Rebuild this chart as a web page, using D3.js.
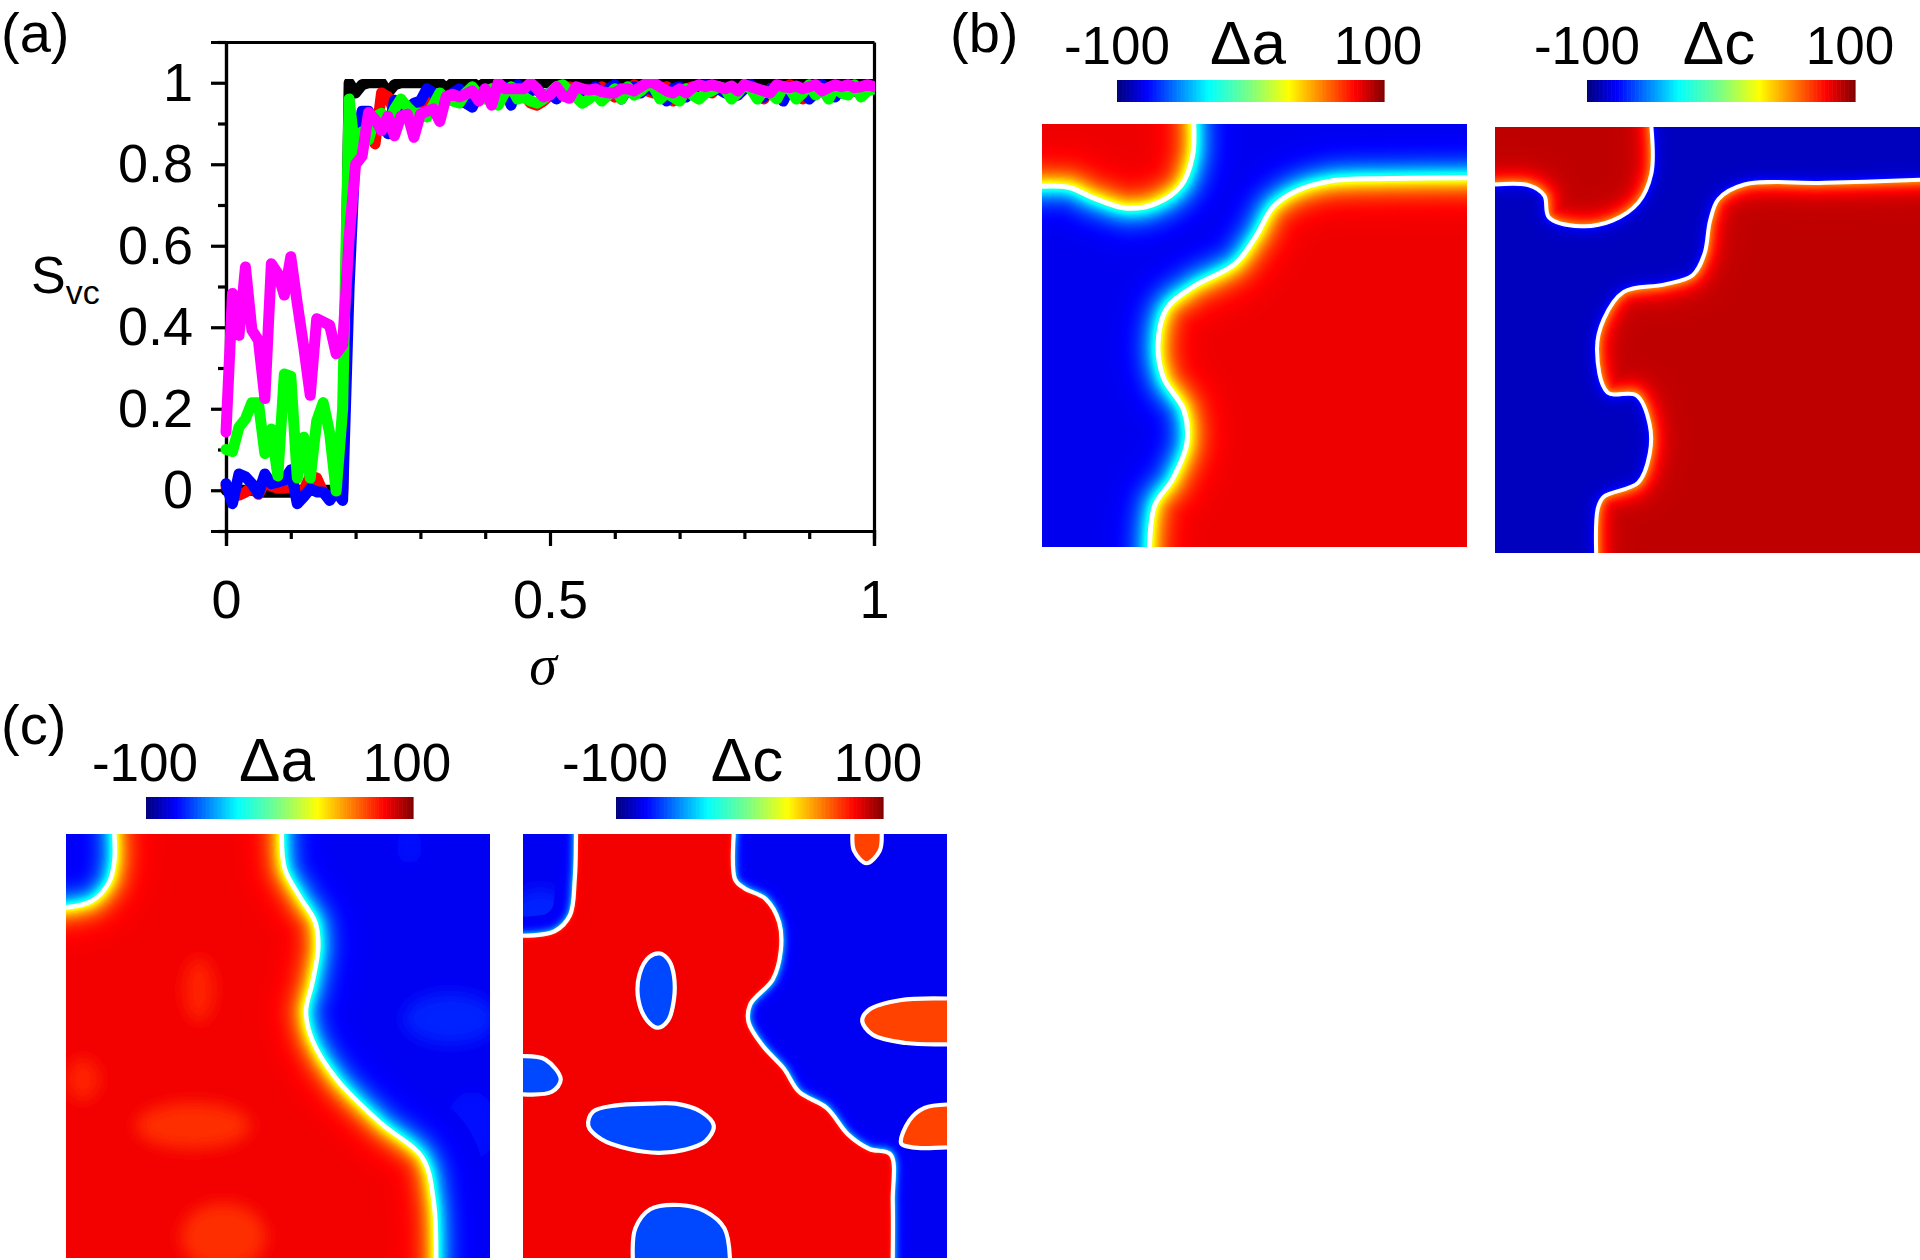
<!DOCTYPE html>
<html><head><meta charset="utf-8">
<script src="https://cdnjs.cloudflare.com/ajax/libs/d3/7.8.5/d3.min.js"></script>
<style>html,body{margin:0;padding:0;background:#fff}svg{display:block}text{font-family:"Liberation Sans",Arial,sans-serif;fill:#000}</style>
</head><body><div id="c"></div>
<script>
// ---- panel (a) data: order parameter vs sigma, sampled every 0.01
const sigma = d3.range(101).map(i => i / 100);
const seriesBlack = [0,0,0,0,0,-.005,-.005,-.005,-.005,-.005,-.005,0,0,0,0,0,0,0,0,1,
 .975,.995,1,1,1,.975,.995,1,1,1,1,1,1,1,.985,1,1,1,1,.99,
 1,1,1,1,1,1,1,1,1,1,1,1,1,1,1,1,1,1,1,1,1,1,1,1,1,1,1,1,1,1,
 1,1,1,1,1,1,1,1,1,1,1,1,1,1,1,1,1,1,1,1,1,1,1,1,1,1,1,1,1,1,1];
const seriesRed = [.01,-.01,-.012,-.005,.01,-.01,.02,.01,.005,.005,.01,-.01,.0,.035,.03,-.005,-.02,-.01,-.01,.8,
 .85,.88,.875,.85,.975,.965,.93,.94,.92,.93,.925,.95,.96,.96,.965,.97,.955,.95,.945,.96,
 .975,.985,.97,.965,.96,.975,.97,.95,.945,.955,.97,.98,.985,.99,.965,.97,.975,.98,.99,.975,
 .965,.98,.985,.995,.985,.98,.975,.985,.99,.955,.975,.985,.99,.98,.985,.975,.99,.985,.98,.97,.995,.985,.975,.96,.985,.99,.98,.995,.975,.96,.985,.995,.98,.97,.985,.975,.99,.98,.975,.985,.99];
const seriesBlue = [.016,-.033,.04,.033,.016,-.008,.04,.016,.02,.025,.05,-.033,-.016,.004,-.004,-.004,-.025,-.002,-.025,.5,
 .85,.93,.93,.89,.91,.875,.957,.93,.92,.95,.955,.985,.975,.95,.96,.975,.985,.95,.94,.975,
 .985,.975,.96,.99,.945,.995,.975,.98,.985,.965,.975,.96,.99,.975,.985,.98,.97,.99,.965,.985,
 .995,.96,.985,.99,.975,.99,.98,.97,.955,.985,.99,.965,.985,.97,.995,.98,.985,.975,.99,.97,.985,.995,.975,.965,.985,.975,.955,.99,.97,.985,.96,.975,.995,.98,.965,.99,.975,.985,.97,.99,.985];
const seriesGreen = [.1,.095,.155,.175,.215,.215,.09,.15,.035,.285,.28,.03,.13,.03,.17,.215,.14,-.002,.2,.96,
 .82,.88,.86,.916,.925,.9,.935,.96,.94,.925,.925,.916,.945,.975,.96,.955,.95,.975,.99,.97,
 .96,.985,.945,.975,.99,.96,.965,.955,.95,.96,.975,.99,.995,.98,.965,.95,.96,.975,.955,.97,
 .985,.96,.99,.97,.98,.995,.99,.96,.975,.965,.955,.985,.97,.96,.975,.98,.99,.985,.96,.975,.995,.985,.96,.98,.975,.96,.99,.985,.96,.975,.995,.97,.985,.96,.99,.975,.97,.995,.965,.98,.985];
const seriesMagenta = [.143,.483,.38,.548,.393,.368,.225,.556,.532,.479,.573,.458,.352,.233,.421,.413,.405,.335,.356,.62,
 .80,.82,.927,.91,.883,.918,.87,.918,.923,.866,.923,.93,.936,.905,.967,.972,.965,.972,.98,.955,
 .985,.945,1,.985,.985,.985,.985,1,.985,.965,.97,.99,.968,.962,.99,.985,.982,.985,.978,.975,
 .975,.985,.985,.98,.99,1,1,.99,.98,.975,.985,.975,.988,.995,.99,.995,.99,.985,.992,.98,.995,.99,.985,.98,.975,.995,.99,.988,.992,.985,.99,.995,.98,.988,.995,.99,.995,.988,.99,.995,.99];
const seriesOrder = [["#000000",seriesBlack],["#ff0000",seriesRed],["#0000ff",seriesBlue],["#00ff00",seriesGreen],["#ff00ff",seriesMagenta]];
const yMajor = [0,.2,.4,.6,.8,1];
const yMinor = [-.1,.1,.3,.5,.7,.9,1.1];
const xMajor = [0,.5,1];
const xMinor = [.1,.2,.3,.4,.6,.7,.8,.9];

// ---- domain boundaries, in fractions of the panel
const ba1 = [[.357,0],[.354,.077],[.327,.146],[.266,.189],[.199,.199],[.124,.176],[.064,.15],[0,.147]];
const ba2 = [[1,.127],[.814,.129],[.678,.135],[.597,.159],[.543,.197],[.503,.266],[.455,.33],[.354,.386],[.293,.437],[.273,.523],[.286,.6],[.334,.677],[.341,.754],[.307,.84],[.266,.9],[.253,1]];
const bc1 = [[.368,0],[.368,.109],[.337,.178],[.276,.22],[.202,.233],[.127,.212],[.116,.161],[.08,.137],[0,.135]];
const bc2 = [[1,.124],[.777,.131],[.587,.135],[.526,.169],[.506,.22],[.493,.297],[.465,.348],[.398,.37],[.303,.387],[.256,.451],[.24,.523],[.265,.623],[.333,.63],[.364,.699],[.364,.767],[.337,.835],[.256,.868],[.242,.895],[.238,1]];
const ca1 = [[.114,0],[.114,.065],[.101,.115],[.061,.158],[0,.173]];
const ca2 = [[.509,0],[.516,.082],[.552,.149],[.588,.208],[.595,.267],[.581,.351],[.566,.419],[.581,.486],[.639,.579],[.74,.68],[.841,.764],[.867,.865],[.873,1]];
const cc1 = [[.125,0],[.122,.107],[.111,.191],[.075,.229],[0,.24]];
const cc2 = [[.497,0],[.5,.107],[.522,.128],[.572,.153],[.604,.208],[.608,.275],[.589,.343],[.536,.402],[.532,.444],[.565,.499],[.615,.553],[.651,.608],[.716,.646],[.767,.709],[.817,.743],[.867,.756],[.872,.865],[.872,1]];
const islandBlue1 = [[.324,.282],[.345,.30],[.356,.335],[.356,.39],[.342,.44],[.318,.457],[.293,.44],[.272,.39],[.275,.33],[.298,.29]];
const islandBlue2 = [[0,.524],[.053,.532],[.089,.579],[.068,.608],[0,.614]];
const islandBlue3 = [[.298,.636],[.36,.636],[.42,.655],[.45,.688],[.43,.725],[.38,.745],[.32,.752],[.25,.743],[.185,.72],[.154,.688],[.165,.655],[.22,.64]];
const islandBlue4 = [[.259,1],[.265,.93],[.30,.885],[.37,.875],[.43,.89],[.475,.93],[.488,1]];
const islandOrange1 = [[.777,0],[.781,.04],[.81,.069],[.841,.04],[.846,0]];
const islandOrange2 = [[1,.388],[.889,.392],[.817,.414],[.8,.44],[.824,.473],[.903,.493],[1,.496]];
const islandOrange3 = [[1,.638],[.947,.646],[.911,.676],[.892,.73],[.918,.739],[1,.739]];
// soft patches of the field: [x, y, rx, ry, value]
const caSpotsRed = [[.314,.368,.036,.076,71],[.04,.579,.04,.05,71],[.30,.688,.135,.055,69],[.371,.95,.10,.08,69]];
const caSpotsBlue = [[.906,.435,.11,.06,-72],[.81,.03,.03,.04,-76],[.957,.688,.06,.08,-76]];
const ccSpotsBlue = [[.04,.19,.07,.06,-72]];
const labelText = {a:"Δa", c:"Δc"};

// ---- layout
const W = 1920, H = 1260;
const svg = d3.select("#c").append("svg").attr("width",W).attr("height",H);
const defs = svg.append("defs");
defs.append("filter").attr("id","soft").attr("x","-100%").attr("y","-100%").attr("width","300%").attr("height","300%")
  .append("feGaussianBlur").attr("stdDeviation",8);
const jet = d3.scaleLinear()
  .domain([-100,-78,-32,0,28,78,100])
  .range(["#00007f","#0000ff","#00ffff","#7fff7f","#ffff00","#ff0000","#7f0000"])
  .clamp(true);

// ---- panel (a)
const x = d3.scaleLinear().domain([0,1]).range([226,874]);
const y = d3.scaleLinear().domain([-.1,1.1]).range([531,42]);
const AF = 54;
const axes = svg.append("g");
function styleAxis(g){
  g.selectAll("path,line").attr("stroke","#000").attr("stroke-width",3.2);
  g.selectAll("text").attr("font-size",AF).attr("font-family",'"Liberation Sans"').attr("fill","#000");
}
const lineGen = d3.line().x((d,i)=>x(sigma[i])).y(d=>y(d));
defs.append("clipPath").attr("id","clipA").append("rect")
  .attr("x",x(0)-6).attr("y",79).attr("width",x(1)-x(0)+7).attr("height",y(-.1)-79);
const linesG = svg.append("g").attr("clip-path","url(#clipA)");
seriesOrder.forEach(([col,vals])=>{
  linesG.append("path").attr("d",lineGen(vals)).attr("fill","none").attr("stroke",col)
    .attr("stroke-width",11).attr("stroke-linejoin","round").attr("stroke-linecap","round");
});
const fmt = d=>d3.format("~g")(d);
axes.append("g").attr("transform",`translate(${x(0)},0)`).call(d3.axisLeft(y).tickValues(yMajor).tickSize(15).tickPadding(18).tickFormat(fmt)).call(styleAxis);
axes.append("g").attr("transform",`translate(${x(0)},0)`).call(d3.axisLeft(y).tickValues(yMinor).tickSize(8).tickFormat("")).call(styleAxis);
axes.append("g").attr("transform",`translate(0,${y(-.1)})`).call(d3.axisBottom(x).tickValues(xMajor).tickSize(15).tickPadding(34).tickFormat(fmt)).call(styleAxis);
axes.append("g").attr("transform",`translate(0,${y(-.1)})`).call(d3.axisBottom(x).tickValues(xMinor).tickSize(8).tickFormat("")).call(styleAxis);
axes.append("g").attr("transform",`translate(0,${y(1.1)})`).call(d3.axisTop(x).tickValues([]).tickSizeOuter(0)).call(styleAxis);
axes.append("g").attr("transform",`translate(${x(1)},0)`).call(d3.axisRight(y).tickValues([]).tickSizeOuter(0)).call(styleAxis);

const sv = svg.append("text").attr("x",31).attr("y",293).attr("font-size",52).text("S");
sv.append("tspan").attr("font-size",34).attr("dy",11).text("vc");
svg.append("text").attr("x",543).attr("y",684).attr("font-size",56).attr("text-anchor","middle")
  .style("font-family",'"Liberation Serif"').attr("font-style","italic").text("σ");
[["(a)",1,52],["(b)",950,52],["(c)",1,744]].forEach(([t,tx,ty])=>{
  svg.append("text").attr("x",tx).attr("y",ty).attr("font-size",56).text(t);
});

// ---- colour bars
function colorbar(x0,x1,y0,y1,sym,cLow,cSym,cHigh,base){
  const s = d3.scaleLinear().domain([-100,100]).range([x0,x1]);
  const g = svg.append("g");
  g.selectAll("rect").data(d3.range(-100,100,1)).join("rect")
    .attr("x",d=>s(d)).attr("y",y0).attr("width",(x1-x0)/200+.6).attr("height",y1-y0).attr("fill",d=>jet(d));
  [["-100",cLow,53],[sym,cSym,62],["100",cHigh,53]].forEach(([t,cx,fs])=>{
    g.append("text").attr("x",cx).attr("y",base).attr("font-size",fs).attr("text-anchor","middle").text(t);
  });
}
colorbar(1117,1384,80,102,labelText.a,1117,1248,1378,64);
colorbar(1587,1855,80,102,labelText.c,1587,1719,1850,64);
colorbar(146,413,797,819,labelText.a,145,277,407,781);
colorbar(616,883,797,819,labelText.c,615,747,878,781);

// ---- field panels
let uid = 0;
function fieldPanel(o){
  const id = "p"+(uid++);
  const px = d3.scaleLinear().domain([0,1]).range([o.x0,o.x1]);
  const py = d3.scaleLinear().domain([0,1]).range([o.y0,o.y1]);
  const curve = d3.line().x(d=>px(d[0])).y(d=>py(d[1])).curve(d3.curveCatmullRom.alpha(.5));
  const closed = d3.line().x(d=>px(d[0])).y(d=>py(d[1])).curve(d3.curveCatmullRomClosed.alpha(.5));
  const pieces = ps => ps.map((p,i)=>{
    if(p.length<3) return p.map(q=>"L"+px(q[0])+","+py(q[1])).join("");
    const s = curve(p); return i===0 ? s : "L"+s.slice(1);
  }).join("")+"Z";
  const allLines = o.lines.map(l=>curve(l)).join("");
  const regionD = o.regions.map(pieces).join("");
  defs.append("clipPath").attr("id",id+"box").append("rect")
    .attr("x",o.x0).attr("y",o.y0).attr("width",o.x1-o.x0).attr("height",o.y1-o.y0);
  defs.append("clipPath").attr("id",id+"red").append("path").attr("d",regionD);
  const g = svg.append("g").attr("clip-path",`url(#${id}box)`);
  const spots = (host,list)=> host.selectAll("ellipse").data(list||[]).join("ellipse")
    .attr("cx",d=>px(d[0])).attr("cy",d=>py(d[1]))
    .attr("rx",d=>d[2]*(o.x1-o.x0)).attr("ry",d=>d[3]*(o.y1-o.y0))
    .attr("fill",d=>jet(d[4])).attr("filter","url(#soft)");
  const bands = (host,V,w,off)=>{
    d3.range(w*3.2,0,-1.25).forEach(d=>{
      host.append("path").attr("d",allLines).attr("fill","none")
        .attr("stroke",jet(V*Math.tanh((d+off)/w))).attr("stroke-width",2*d)
        .attr("stroke-linejoin","round").attr("stroke-linecap","round");
    });
  };
  // low side
  g.append("rect").attr("x",o.x0).attr("y",o.y0).attr("width",o.x1-o.x0).attr("height",o.y1-o.y0).attr("fill",jet(-o.V));
  spots(g.append("g"),o.spotsLow);
  bands(g,-o.V,o.wLow,o.off);
  // high side
  const hi = g.append("g").attr("clip-path",`url(#${id}red)`);
  hi.append("rect").attr("x",o.x0).attr("y",o.y0).attr("width",o.x1-o.x0).attr("height",o.y1-o.y0).attr("fill",jet(o.V));
  spots(hi.append("g"),o.spotsHigh);
  bands(hi,o.V,o.wHigh,o.off);
  // flat islands
  (o.islands||[]).forEach(is=>{
    const d = is.closed ? closed(is.pts) : curve(is.pts)+"Z";
    g.append("path").attr("d",d).attr("fill",is.fill);
    g.append("path").attr("d",is.closed ? d : curve(is.pts)).attr("fill","none").attr("stroke","#fff").attr("stroke-width",o.white);
  });
  g.append("path").attr("d",allLines).attr("fill","none").attr("stroke","#fff").attr("stroke-width",o.white).attr("stroke-linejoin","round");
}
fieldPanel({x0:1042,x1:1467,y0:124,y1:547,V:81,wLow:19,wHigh:19,off:2.5,white:5,
  lines:[ba1,ba2],regions:[[ba1,[[0,0]]],[ba2,[[1,1]]]]});
fieldPanel({x0:1495,x1:1920,y0:127,y1:553,V:89,wLow:8,wHigh:14,off:7,white:4,
  lines:[bc1,bc2],regions:[[bc1,[[0,0]]],[bc2,[[1,1]]]]});
fieldPanel({x0:66,x1:490,y0:834,y1:1258,V:80,wLow:17,wHigh:17,off:2.5,white:4.6,
  lines:[ca1,ca2],regions:[[ca1,[[0,1]],ca2.slice().reverse()]],spotsHigh:caSpotsRed,spotsLow:caSpotsBlue});
fieldPanel({x0:523,x1:947,y0:834,y1:1258,V:80,wLow:6,wHigh:3,off:1.5,white:4.2,
  lines:[cc1,cc2],regions:[[cc1,[[0,1]],cc2.slice().reverse()]],spotsLow:ccSpotsBlue,
  islands:[
   {pts:islandBlue1,closed:true,fill:jet(-65)},{pts:islandBlue2,closed:false,fill:jet(-65)},
   {pts:islandBlue3,closed:true,fill:jet(-65)},{pts:islandBlue4,closed:false,fill:jet(-65)},
   {pts:islandOrange1,closed:false,fill:jet(65)},{pts:islandOrange2,closed:false,fill:jet(65)},
   {pts:islandOrange3,closed:false,fill:jet(65)}]});
</script></body></html>
